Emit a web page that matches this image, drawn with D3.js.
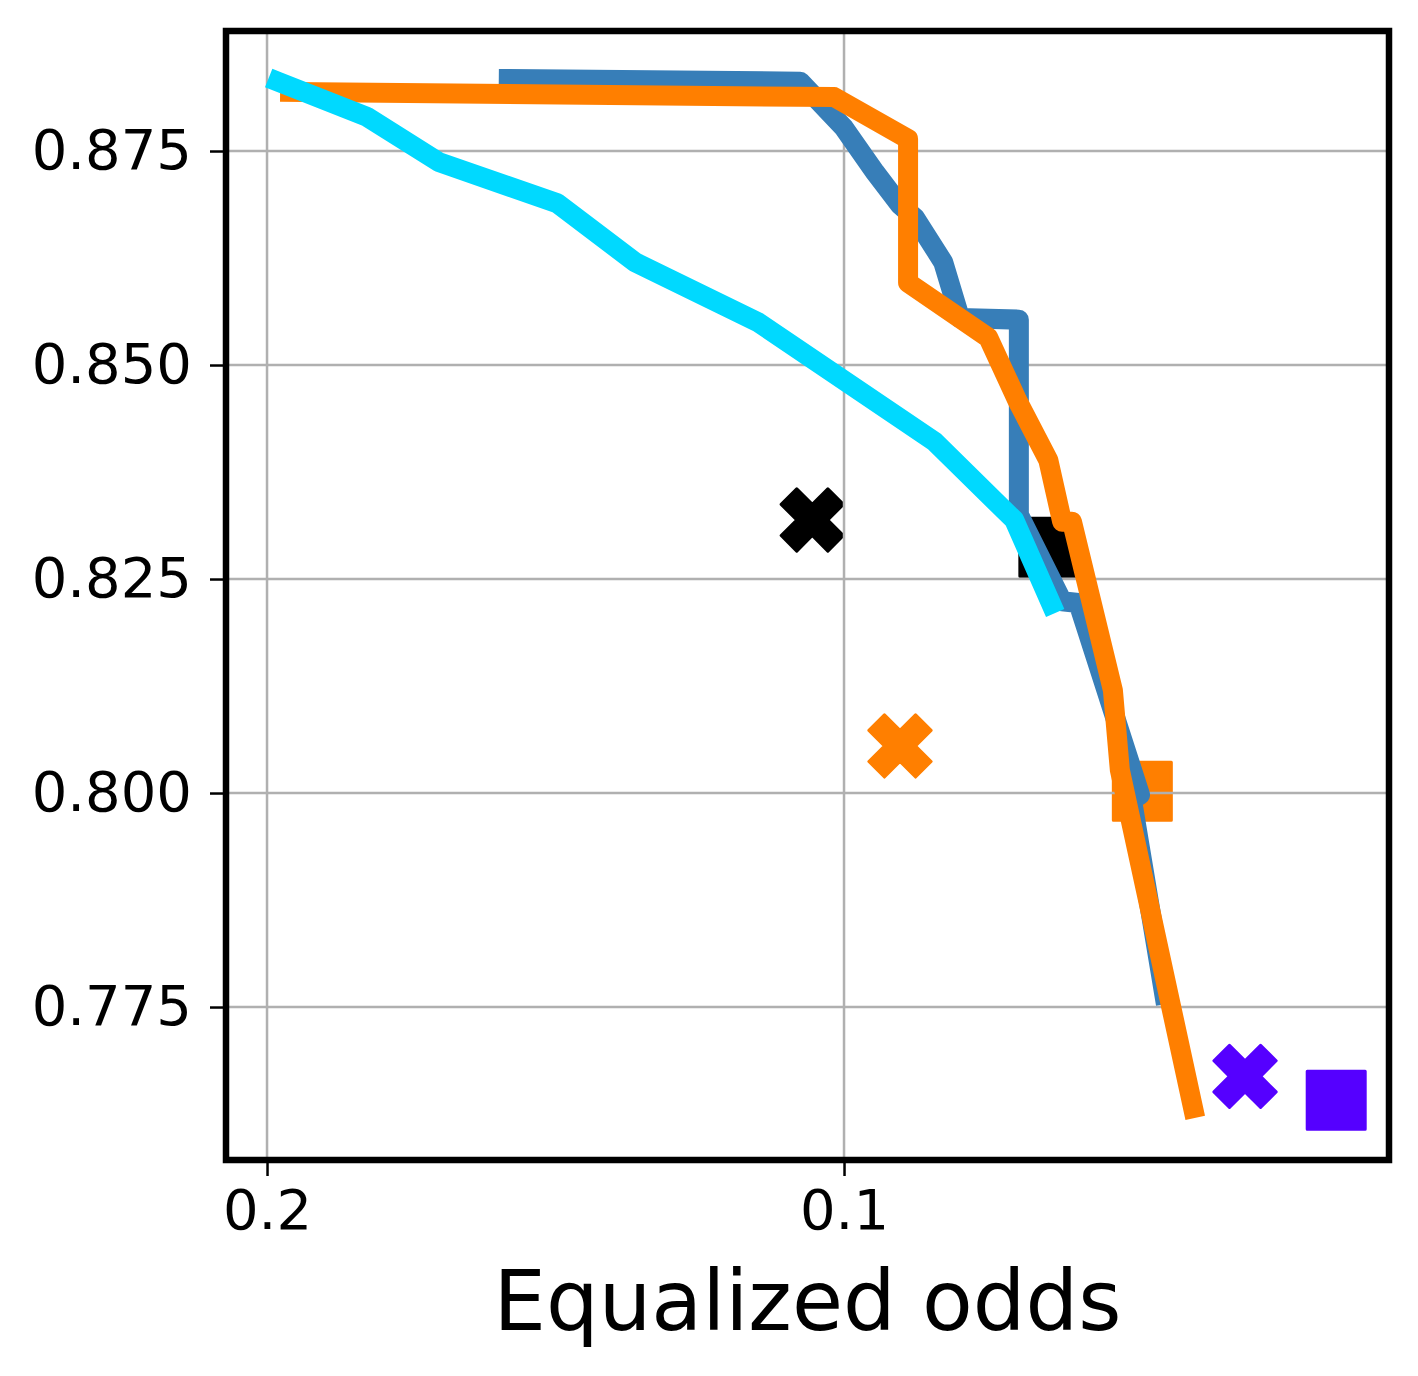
<!DOCTYPE html>
<html>
<head>
<meta charset="utf-8">
<script src="https://cdn.jsdelivr.net/npm/d3@7"></script>
<style>
  html, body { margin: 0; padding: 0; background: #fff; }
  svg { display: block; font-family: "DejaVu Sans", sans-serif; }
</style>
</head>
<body>
<svg id="chart" width="1418" height="1376"></svg>
<script>
// equalized odds (x) vs accuracy (y), one array per series
const blueOdds = [0.1581, 0.1076, 0.1000, 0.0946, 0.0903, 0.0877, 0.0828, 0.0799, 0.0697, 0.0697, 0.0622, 0.0594, 0.0487, 0.0501, 0.0445];
const blueAcc  = [0.8834, 0.8831, 0.8777, 0.8725, 0.8687, 0.8672, 0.8620, 0.8555, 0.8553, 0.8325, 0.8224, 0.8222, 0.7998, 0.7992, 0.7765];

const orangeOdds = [0.1960, 0.1017, 0.0889, 0.0889, 0.0750, 0.0700, 0.0646, 0.0622, 0.0605, 0.0534, 0.0522, 0.0395];
const orangeAcc  = [0.8819, 0.8813, 0.8764, 0.8596, 0.8532, 0.8459, 0.8389, 0.8317, 0.8317, 0.8120, 0.8027, 0.7632];

const cyanOdds = [0.1981, 0.1827, 0.1702, 0.1497, 0.1362, 0.1149, 0.0844, 0.0705, 0.0641];
const cyanAcc  = [0.8831, 0.8790, 0.8737, 0.8689, 0.8620, 0.8550, 0.8411, 0.8319, 0.8221];

// single-point methods
const pointNames = ["black_x", "orange_x", "purple_x", "black_sq", "orange_sq", "purple_sq"];
const pointOdds  = [0.1055, 0.0903, 0.0305, 0.0645, 0.0483, 0.0147];
const pointAcc   = [0.8319, 0.8055, 0.7669, 0.8287, 0.8002, 0.7641];

const xTicks = [0.2, 0.1];
const yTicks = [0.775, 0.800, 0.825, 0.850, 0.875];

const colors = {
  blue: "#377eb8",
  orange: "#ff7f00",
  cyan: "#00d9ff",
  black: "#000000",
  purple: "#5500ff",
};

const pointStyle = {
  black_x: { shape: "x", color: colors.black },
  orange_x: { shape: "x", color: colors.orange },
  purple_x: { shape: "x", color: colors.purple },
  black_sq: { shape: "sq", color: colors.black },
  orange_sq: { shape: "sq", color: colors.orange },
  purple_sq: { shape: "sq", color: colors.purple },
};

const frame = { left: 226, right: 1389, top: 31, bottom: 1160 };

const x = d3.scaleLinear()
  .domain([0.20711, 0.00555])
  .range([frame.left, frame.right]);

const y = d3.scaleLinear()
  .domain([0.75713, 0.88902])
  .range([frame.bottom, frame.top]);

const svg = d3.select("#chart");

// filled "X": a plus turned by 45 degrees
const xMarker = (() => {
  const s = 66;
  const c = Math.SQRT1_2;
  const pts = [[-1, -3], [-1, -1], [-3, -1], [-3, 1], [-1, 1], [-1, 3],
    [1, 3], [1, 1], [3, 1], [3, -1], [1, -1], [1, -3]]
    .map(([a, b]) => {
      const px = a / 6 * s, py = b / 6 * s;
      return [px * c - py * c, px * c + py * c];
    });
  return "M" + pts.map(p => p.join(",")).join("L") + "Z";
})();

const points = pointNames.map((name, i) => ({
  name, odds: pointOdds[i], acc: pointAcc[i], ...pointStyle[name],
}));

// markers sit below the grid, like matplotlib scatter
svg.append("g")
  .selectAll(".pt")
  .data(points)
  .enter()
  .append("path")
  .attr("class", "pt")
  .attr("transform", d => `translate(${x(d.odds)},${y(d.acc)})`)
  .attr("d", d => d.shape === "x" ? xMarker : "M-29,-29H29V29H-29Z")
  .attr("fill", d => d.color)
  .attr("stroke", d => d.color)
  .attr("stroke-width", 3)
  .attr("stroke-linejoin", "round");

// grid
const grid = svg.append("g").attr("stroke", "#b0b0b0").attr("stroke-width", 2.5);

grid.selectAll(".gx")
  .data(xTicks)
  .enter()
  .append("line")
  .attr("x1", d => x(d))
  .attr("x2", d => x(d))
  .attr("y1", frame.top)
  .attr("y2", frame.bottom);

grid.selectAll(".gy")
  .data(yTicks)
  .enter()
  .append("line")
  .attr("y1", d => y(d))
  .attr("y2", d => y(d))
  .attr("x1", frame.left)
  .attr("x2", frame.right);

// curves
const series = [
  { odds: blueOdds, acc: blueAcc, color: colors.blue },
  { odds: orangeOdds, acc: orangeAcc, color: colors.orange },
  { odds: cyanOdds, acc: cyanAcc, color: colors.cyan },
];

const line = d3.line()
  .x(d => x(d[0]))
  .y(d => y(d[1]));

svg.append("g")
  .selectAll("path")
  .data(series)
  .enter()
  .append("path")
  .attr("d", d => line(d3.zip(d.odds, d.acc)))
  .attr("fill", "none")
  .attr("stroke", d => d.color)
  .attr("stroke-width", 20)
  .attr("stroke-linejoin", "round")
  .attr("stroke-linecap", "square");

// axes
const xAxis = d3.axisBottom(x)
  .tickValues(xTicks)
  .tickFormat(d3.format(".1f"))
  .tickSize(16)
  .tickPadding(13);

const yAxis = d3.axisLeft(y)
  .tickValues(yTicks)
  .tickFormat(d3.format(".3f"))
  .tickSize(16)
  .tickPadding(18);

const styleAxis = g => {
  g.select(".domain").remove();
  g.selectAll(".tick line").attr("stroke", "#000").attr("stroke-width", 2.5);
  g.selectAll(".tick text")
    .attr("fill", "#000")
    .style("font-family", "'DejaVu Sans', sans-serif")
    .style("font-size", "56px");
};

svg.append("g")
  .attr("transform", `translate(0,${frame.bottom})`)
  .call(xAxis)
  .call(styleAxis);

svg.append("g")
  .attr("transform", `translate(${frame.left},0)`)
  .call(yAxis)
  .call(styleAxis);

// frame
svg.append("rect")
  .attr("x", frame.left)
  .attr("y", frame.top)
  .attr("width", frame.right - frame.left)
  .attr("height", frame.bottom - frame.top)
  .attr("fill", "none")
  .attr("stroke", "#000")
  .attr("stroke-width", 6.5);

svg.append("text")
  .attr("x", (frame.left + frame.right) / 2)
  .attr("y", 1330)
  .attr("text-anchor", "middle")
  .style("font-size", "83px")
  .attr("fill", "#000")
  .text("Equalized odds");
</script>
</body>
</html>
